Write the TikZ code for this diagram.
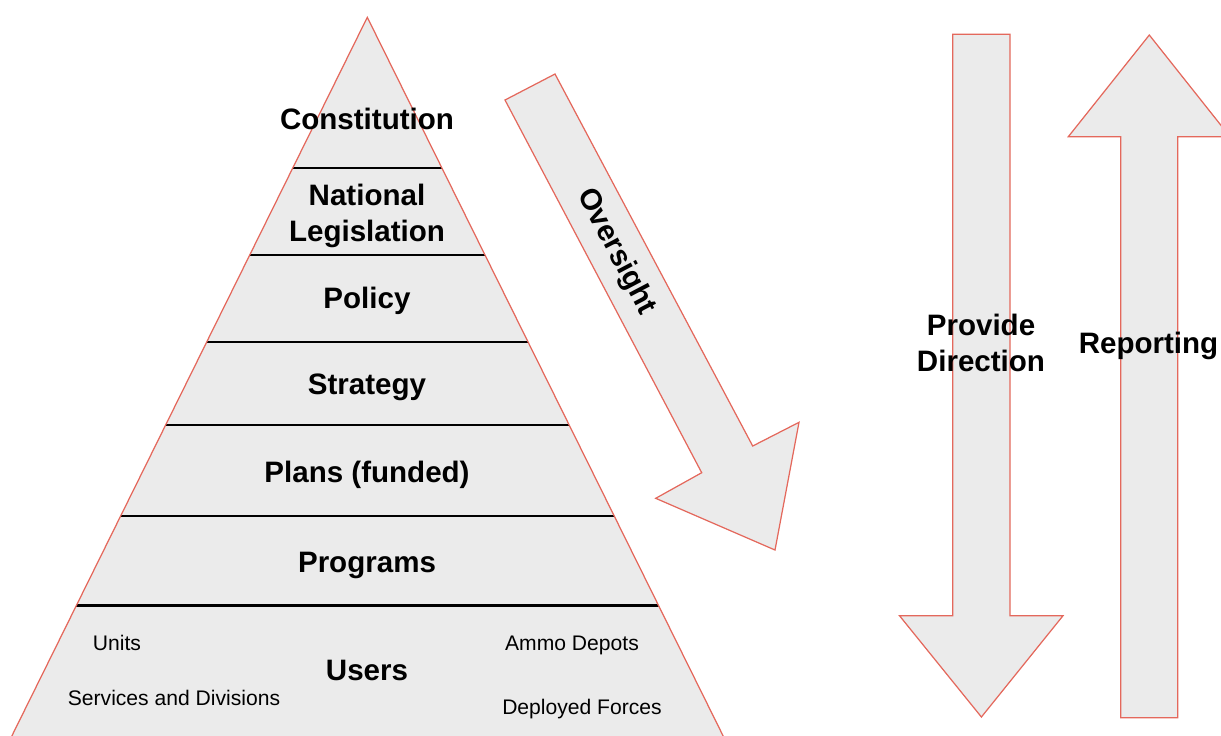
\documentclass[tikz,border=0pt]{standalone}
\usepackage{fontspec}
\setmainfont{Liberation Sans}
\usepackage{xcolor}
\usetikzlibrary{positioning}
\definecolor{pyrfill}{RGB}{235,235,235}
\definecolor{pyredge}{RGB}{228,104,92}

\begin{document}
\begin{tikzpicture}[x=0.01cm, y=-0.01cm,
  block/.style={fill=pyrfill, draw=pyredge, line width=0.35pt, line join=miter},
  tier/.style={black, line width=0.6pt},
  title/.style={font=\bfseries\fontsize{8.4}{10.4}\selectfont, align=center, inner sep=0pt},
  note/.style={font=\fontsize{6}{7.2}\selectfont, inner sep=0pt, anchor=base}]

\useasboundingbox (0,0) rectangle (1221,735);
\clip (0,0) rectangle (1221,735);

 \begin{scope}
{
% pyramid
\coordinate (apex) at (367.3,17.3);
\fill[pyrfill] (apex) -- (-5,770) -- (740,770) -- cycle;

\begin{scope}
\clip (apex) -- (-5,770) -- (740,770) -- cycle;
\draw[tier] (0,168)--++(800,0);
\draw[tier] (0,255)--++(800,0);
\draw[tier] (0,342)--++(800,0);
\draw[tier] (0,425)--++(800,0);
\draw[tier] (0,516)--++(800,0);
\draw[tier] (0,605.5)--++(800,0);
\end{scope}

\draw[block, fill=none] (apex) -- (-5,770) -- (740,770) -- cycle;

\node[title, anchor=base] (constitution) at (367,129.5) {Constitution};
\node[title] (legislation) at (367,216) {National\\Legislation};
\node[title, anchor=base] (policy) at (367,308.5) {Policy};
\node[title, anchor=base] (strategy) at (367,394.5) {Strategy};
\node[title, anchor=base] (plans) at (367,482.5) {Plans (funded)};
\node[title, anchor=base] (programs) at (367,572.5) {Programs};
\node[title, anchor=base] (users) at (367,680.5) {Users};

\node[note] (units) at (117,650.5) {Units};
\node[note] (services) at (174,705.5) {Services and Divisions};
\node[note] (ammo) at (572,650.5) {Ammo Depots};
\node[note] (deployed) at (582,714.5) {Deployed Forces};

% oversight arrow
\draw[block] (505,100)--(555,74)--(752.7,446)--(799,422.3)--(775,550)--(655.7,498.3)--(701.7,472.7)--cycle;
\node[title, rotate=-62.2] (oversight) at (616,252) {Oversight};

% direction and reporting arrows
\draw[block] (952.7,34.3)--(1010,34.3)--(1010,615.7)--(1063,615.7)--(981.4,717)--(899.5,615.7)--(952.7,615.7)--cycle;
\draw[block] (1149.3,35)--(1230,136.7)--(1177.7,136.7)--(1177.7,717.7)--(1120.7,717.7)--(1120.7,136.7)--(1068.3,136.7)--cycle;

\node[title] (direction) at (981,343) {Provide\\Direction};
\node[title, anchor=base] (reporting) at (1148.5,353.5) {Reporting};
}
\end{scope}

\end{tikzpicture}
\end{document}
